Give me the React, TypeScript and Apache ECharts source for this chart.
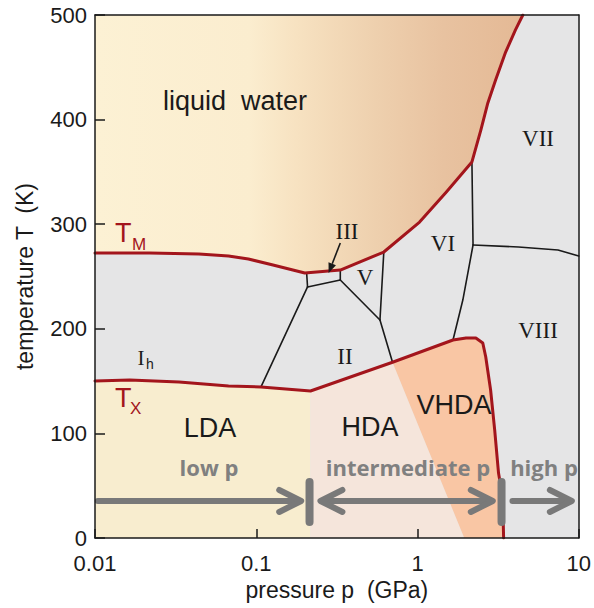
import React, { useEffect, useRef } from "react";
import * as echarts from "echarts";

// ---- axis ticks ----
const xTickLabels = ["0.01", "0.1", "1", "10"];
const yTicks = [0, 100, 200, 300, 400, 500];

// ---- melting line T_M : pressure (GPa) / temperature (K) ----
const meltingP = [0.01, 0.0218, 0.0441, 0.0673, 0.0894, 0.127, 0.2, 0.332, 0.618, 1.03, 1.51, 2.175, 2.47, 2.73, 3.05, 3.52, 4.05, 4.5];
const meltingT = [272.5, 272.5, 271.5, 269.6, 266.7, 261, 253.3, 256.2, 273.4, 302, 330.8, 359.5, 390, 415.9, 437.9, 464.6, 485.7, 500];

// ---- crystallization line T_X ----
const crystP = [0.01, 0.0164, 0.0332, 0.0673, 0.107, 0.217, 0.7, 1.66, 2.0, 2.3, 2.54, 2.65, 2.84, 3.01, 3.18, 3.37, 3.42];
const crystT = [150.1, 151, 149.1, 145.3, 144.4, 140.5, 168, 189.3, 191.2, 191.2, 186.4, 173, 141.5, 103.3, 62.1, 39.2, 0];

// ---- crystalline phase boundaries ----
const boundaryIhII = [[0.107, 144.4], [0.208, 240]];
const boundaryIIIleft = [[0.2055, 252.6], [0.208, 240]];
const boundaryIIIbottom = [[0.208, 240], [0.332, 246.7]];
const boundaryIIIright = [[0.332, 246.7], [0.332, 256.2]];
const boundaryIIV = [[0.332, 246.7], [0.585, 208.4]];
const boundaryVVI = [[0.618, 273.4], [0.585, 208.4]];
const boundaryIIVI = [[0.585, 208.4], [0.7, 168]];
const boundaryVIVII = [[2.175, 359.5], [2.21, 280.1]];
const boundaryVIIVIII = [[2.21, 280.1], [4.23, 278.2], [7.43, 275.3], [10, 269.6]];
const boundaryVIVIII = [[2.21, 280.1], [1.91, 227.5], [1.66, 189.3]];

// ---- amorphous region boundaries ----
const ldaHdaP = 0.217;
const hdaVhdaBottomP = 1.95;

// ---- pressure-range annotation ----
const arrowT = 35.4;
const lowArrowP = [0.0104, 0.19];
const midArrowP = [0.25, 2.93];
const highArrowP = [3.88, 9.06];
const dividerP = [0.214, 3.32];
const dividerT = [15.3, 53.5];
const ice3PointerFrom = [0.332, 282];
const ice3PointerTo = [0.281, 253.3];

const RED = "#a3151c";
const BLACK = "#1a1a1a";
const ARROW_GRAY = "#797979";

const melting = meltingP.map((p, i) => [p, meltingT[i]]);
const cryst = crystP.map((p, i) => [p, crystT[i]]);
const iLda = crystP.indexOf(ldaHdaP);
const iVhda = crystP.indexOf(0.7);

const liquidPoly = [...melting, [0.01, 500]];
const ldaPoly = [...cryst.slice(0, iLda + 1), [ldaHdaP, 0], [0.01, 0]];
const hdaPoly = [cryst[iLda], cryst[iVhda], [hdaVhdaBottomP, 0], [ldaHdaP, 0]];
const vhdaPoly = [...cryst.slice(iVhda), [hdaVhdaBottomP, 0]];

function polySeries(points: number[][], fill: any, useGradient = false) {
  return {
    type: "custom",
    coordinateSystem: "cartesian2d",
    xAxisIndex: 0,
    yAxisIndex: 0,
    silent: true,
    z: 1,
    data: [points[0]],
    renderItem: (_p: any, api: any) => {
      let f = fill;
      if (useGradient) {
        const x0 = api.coord([0.01, 0])[0];
        const x1 = api.coord([4.5, 0])[0];
        f = new echarts.graphic.LinearGradient(x0, 0, x1, 0, [
          { offset: 0, color: "#fcf1d4" },
          { offset: 0.36, color: "#fbedcf" },
          { offset: 0.47, color: "#f7e2c1" },
          { offset: 0.655, color: "#eed0ae" },
          { offset: 0.816, color: "#e8c2a0" },
          { offset: 1, color: "#e4b995" },
        ], true);
      }
      return {
        type: "polygon",
        shape: { points: points.map((pt) => api.coord(pt)) },
        style: { fill: f, stroke: null },
      };
    },
  };
}

function lineSeries(points: number[][], color: string, width: number, z: number) {
  return {
    type: "line",
    xAxisIndex: 0,
    yAxisIndex: 0,
    data: points,
    symbol: "none",
    silent: true,
    z,
    lineStyle: { color, width, cap: "round", join: "round" },
  };
}

const annotationSeries = {
  type: "custom",
  coordinateSystem: "cartesian2d",
  silent: true,
  z: 6,
  data: [[lowArrowP[0], arrowT]],
  renderItem: (_p: any, api: any) => {
    const y = api.coord([1, arrowT])[1];
    const X = (p: number) => api.coord([p, arrowT])[0];
    const st = { stroke: ARROW_GRAY, lineWidth: 6, lineCap: "round", lineJoin: "round", fill: null };
    const seg = (x1: number, x2: number) => ({ type: "line", shape: { x1, y1: y, x2, y2: y }, style: st });
    const chev = (tip: number, dir: number) => ({
      type: "polyline",
      shape: { points: [[tip - dir * 22, y - 11], [tip, y], [tip - dir * 22, y + 11]] },
      style: st,
    });
    const children: any[] = [];
    children.push(seg(X(lowArrowP[0]), X(lowArrowP[1]) - 2), chev(X(lowArrowP[1]), 1));
    children.push(seg(X(midArrowP[0]) + 2, X(midArrowP[1]) - 2), chev(X(midArrowP[0]), -1), chev(X(midArrowP[1]), 1));
    children.push(seg(X(highArrowP[0]), X(highArrowP[1]) - 2), chev(X(highArrowP[1]), 1));
    dividerP.forEach((p) => {
      const x = X(p);
      const ya = api.coord([p, dividerT[0]])[1];
      const yb = api.coord([p, dividerT[1]])[1];
      children.push({
        type: "line",
        shape: { x1: x, y1: ya, x2: x, y2: yb },
        style: { stroke: ARROW_GRAY, lineWidth: 8, lineCap: "round" },
      });
    });
    // pointer to ice III
    const a = api.coord(ice3PointerFrom);
    const b = api.coord(ice3PointerTo);
    const dx = b[0] - a[0], dy = b[1] - a[1];
    const L = Math.hypot(dx, dy);
    const ux = dx / L, uy = dy / L;
    const hl = 10, hw = 4;
    const bx = b[0] - ux * hl, by = b[1] - uy * hl;
    children.push({ type: "line", shape: { x1: a[0], y1: a[1], x2: bx, y2: by }, style: { stroke: BLACK, lineWidth: 1.6 } });
    children.push({
      type: "polygon",
      shape: { points: [[b[0], b[1]], [bx - uy * hw, by + ux * hw], [bx + uy * hw, by - ux * hw]] },
      style: { fill: BLACK },
    });
    return { type: "group", children };
  },
};

const sans = "Liberation Sans, Arial, sans-serif";
const serif = "Liberation Serif, Times New Roman, serif";
const bold = "Open Sans, sans-serif";

function txt(text: string, x: number, y: number, fontSize: number, fontFamily: string, fill: string, align = "center", fontWeight: any = "normal") {
  return {
    type: "text",
    x,
    y,
    z: 100,
    silent: true,
    style: { text, fontSize, fontFamily, fill, align, verticalAlign: "middle", fontWeight },
  };
}

const labels = [
  txt("liquid  water", 235, 101, 27, sans, BLACK),
  txt("T", 115, 233, 27, sans, RED, "left"),
  txt("M", 132, 244, 17, sans, RED, "left"),
  txt("T", 115, 398, 27, sans, RED, "left"),
  txt("X", 130, 408, 17, sans, RED, "left"),
  txt("III", 347, 231, 23, serif, BLACK),
  txt("V", 365, 277, 23, serif, BLACK),
  txt("VI", 443, 243, 23, serif, BLACK),
  txt("VII", 538, 138, 23, serif, BLACK),
  txt("VIII", 538, 330, 23, serif, BLACK),
  txt("II", 345, 356, 23, serif, BLACK),
  txt("I", 141, 358, 21, serif, BLACK),
  txt("h", 146, 364, 14, sans, BLACK, "left"),
  txt("LDA", 210, 428, 27, sans, BLACK),
  txt("HDA", 370, 427, 27, sans, BLACK),
  txt("VHDA", 454, 405, 27, sans, BLACK),
  txt("low p", 209, 467, 22, bold, "#808080", "center", "bold"),
  txt("intermediate p", 408, 467, 22, bold, "#808080", "center", "bold"),
  txt("high p", 544, 467, 22, bold, "#808080", "center", "bold"),
];

const axisLineStyle = { color: BLACK, width: 1.5 };

const option: any = {
  animation: false,
  grid: { left: 95, right: 11, top: 15, bottom: 70, show: true, backgroundColor: "#e5e5e6", borderWidth: 0 },
  xAxis: [
    {
      type: "log",
      logBase: 10,
      min: 0.01,
      max: 10,
      position: "bottom",
      z: 10,
      name: "pressure p  (GPa)",
      nameLocation: "middle",
      nameGap: 40,
      nameTextStyle: { fontSize: 23, color: BLACK, fontFamily: sans },
      axisLine: { show: true, onZero: false, lineStyle: axisLineStyle },
      axisTick: { show: true, inside: true, length: 9, lineStyle: axisLineStyle },
      minorTick: { show: false },
      splitLine: { show: false },
      axisLabel: {
        fontSize: 22,
        color: BLACK,
        fontFamily: sans,
        margin: 14,
        formatter: (v: number) => xTickLabels[Math.round(Math.log10(v)) + 2] ?? "",
      },
    },
    {
      type: "log",
      logBase: 10,
      min: 0.01,
      max: 10,
      position: "top",
      z: 10,
      axisLine: { show: true, onZero: false, lineStyle: axisLineStyle },
      axisTick: { show: false },
      axisLabel: { show: false },
      splitLine: { show: false },
    },
  ],
  yAxis: [
    {
      type: "value",
      min: yTicks[0],
      max: yTicks[yTicks.length - 1],
      interval: 100,
      z: 10,
      name: "temperature T  (K)",
      nameLocation: "middle",
      nameRotate: 90,
      nameGap: 59,
      nameTextStyle: { fontSize: 23, color: BLACK, fontFamily: sans },
      axisLine: { show: true, onZero: false, lineStyle: axisLineStyle },
      axisTick: { show: true, inside: true, length: 10, lineStyle: axisLineStyle },
      splitLine: { show: false },
      axisLabel: { fontSize: 22, color: BLACK, fontFamily: sans, margin: 8 },
    },
    {
      type: "value",
      min: 0,
      max: 500,
      interval: 100,
      position: "right",
      z: 10,
      axisLine: { show: true, onZero: false, lineStyle: axisLineStyle },
      axisTick: { show: false },
      axisLabel: { show: false },
      splitLine: { show: false },
    },
  ],
  series: [
    polySeries(liquidPoly, null, true),
    polySeries(ldaPoly, "#f8edcf"),
    polySeries(hdaPoly, "#f5e5db"),
    polySeries(vhdaPoly, "#f9c6a4"),
    ...[
      boundaryIhII,
      boundaryIIIleft,
      boundaryIIIbottom,
      boundaryIIIright,
      boundaryIIV,
      boundaryVVI,
      boundaryIIVI,
      boundaryVIVII,
      boundaryVIIVIII,
      boundaryVIVIII,
    ].map((b) => lineSeries(b, BLACK, 1.6, 4)),
    lineSeries(melting, RED, 3, 5),
    lineSeries(cryst, RED, 3, 5),
    annotationSeries,
  ],
  graphic: labels,
};

export default function App() {
  const ref = useRef<HTMLDivElement>(null);
  useEffect(() => {
    const chart = echarts.init(ref.current!, undefined, { renderer: "svg" });
    chart.setOption(option);
    return () => chart.dispose();
  }, []);
  return <div ref={ref} style={{ position: "absolute", left: 0, top: 0, width: 594, height: 608 }} />;
}
